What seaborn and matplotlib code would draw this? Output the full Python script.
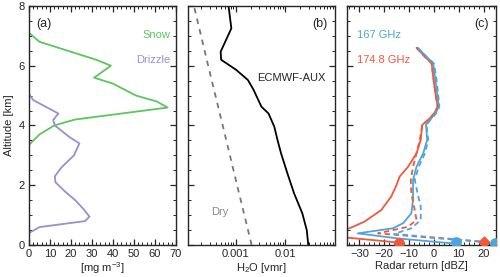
import numpy as np
import pandas as pd
import matplotlib
matplotlib.use("Agg")
import matplotlib.pyplot as plt
from matplotlib.ticker import MultipleLocator, FixedLocator, FixedFormatter, LogLocator, NullFormatter
import seaborn as sns

# Panel (a): hydrometeor content [mg m-3]
snow_alt = [0, 3.35, 3.7, 4.0, 4.2, 4.6, 4.8, 5.0, 5.4, 5.6, 6.0, 6.2, 6.8, 7.1]
snow_val = [0, 0, 5, 12, 22, 66, 61, 51, 40, 31, 39, 32, 5, 0]
drizzle_alt = [0, 0.4, 0.6, 0.8, 0.95, 1.2, 1.5, 1.8, 2.1, 2.3, 2.6, 3.0, 3.4, 3.6, 4.0, 4.18, 4.4, 4.85, 5.05]
drizzle_val = [0, 0, 5, 26.7, 28.8, 26, 22, 17, 12.6, 12.3, 15.5, 21.4, 24, 19.5, 12.3, 11.5, 14, 2, 0]

# Panel (b): water vapour [vmr]
ecmwf_alt = [0, 0.5, 1.06, 1.73, 2.4, 3.07, 3.5, 3.96, 4.4, 4.63, 5.19, 5.52, 5.86, 6.2, 6.47, 7.25, 8]
ecmwf_val = [2.9e-2, 2.7e-2, 2.2e-2, 1.5e-2, 1.1e-2, 8.2e-3, 7.0e-3, 6.0e-3, 4.6e-3, 3.3e-3,
             2.3e-3, 1.77e-3, 1.03e-3, 5.1e-4, 5.0e-4, 8.2e-4, 7.2e-4]
dry_alt = [0, 2, 4, 6, 8]
dry_val = [2.1e-3, 1.07e-3, 5.5e-4, 2.8e-4, 1.45e-4]

# Panel (c): radar return [dBZ]
r174_alt = [6.6, 6.3, 6.08, 5.64, 5.19, 4.63, 4.4, 4.19, 4.02, 3.52, 3.07, 2.62, 2.29, 2.0, 1.62,
            1.17, 0.78, 0.56, 0.4, 0.245, 0.08]
r174_dbz = [-7.0, -3.6, -0.9, -0.3, 0.4, 1.5, 0.1, -2.3, -4.7, -5.3, -7.0, -10.4, -13.8, -15.1, -17.2,
            -21.2, -28, -34, -40, -34.7, -14]
r167_alt = [6.6, 6.3, 6.08, 5.64, 5.19, 4.63, 4.4, 4.19, 4.02, 3.52, 3.07, 2.62, 2.18, 1.51, 1.06,
            0.73, 0.56, 0.39, 0.22, 0.05]
r167_dbz = [-6.5, -3.0, -0.3, 0.4, 1.1, 2.0, 0.6, -1.6, -3.2, -2.7, -4.3, -7.0, -8.4, -8.4, -9.1,
            -12.4, -16.5, -30.7, -14.5, 8]
r174d_alt = [6.6, 6.3, 6.08, 5.64, 5.19, 4.63, 4.4, 4.19, 4.02, 3.52, 3.07, 2.62, 2.18, 1.73, 1.28,
             0.84, 0.61, 0.39, 0.1]
r174d_dbz = [-7.0, -3.6, -0.9, -0.3, 0.4, 1.5, 0.1, -2.3, -4.7, -5.7, -7.0, -8.4, -9.3, -9.1, -8.0,
             -7.0, -10.4, -22.5, 20]
r167d_alt = [6.6, 6.3, 6.08, 5.64, 5.19, 4.63, 4.4, 4.19, 4.02, 3.52, 3.07, 2.62, 2.18, 1.73, 1.28,
             0.84, 0.56, 0.37, 0.08]
r167d_dbz = [-6.5, -3.0, 0.0, 0.9, 1.5, 2.2, 0.8, -1.4, -3.0, -2.3, -3.6, -6.1, -7.7, -6.6, -5.3,
             -5.3, -9.1, -16, 24.5]
surf_dbz = [-14, 9, 20.3, 24.5]
surf_alt = [0.08, 0.1, 0.1, 0.08]

GREEN = "#5cc65c"
PURPLE = "#9890d0"
BLUE = "#4ea5dc"
RED = "#f2573a"

sns.set_style("ticks")
plt.rcParams['font.family'] = ['Liberation Sans', 'DejaVu Sans']
plt.rcParams['mathtext.default'] = 'regular'
plt.rcParams['font.size'] = 8

fig = plt.figure(figsize=(5.0, 2.77), dpi=100)
axa = fig.add_axes([0.058, 0.1155, 0.294, 0.863])
axb = fig.add_axes([0.376, 0.1155, 0.294, 0.863])
axc = fig.add_axes([0.694, 0.1155, 0.298, 0.863])

lw = 1.3

def line(ax, x, y, color, ls="-"):
    df = pd.DataFrame({"x": x, "y": y})
    sns.lineplot(data=df, x="x", y="y", ax=ax, sort=False, estimator=None,
                 color=color, linestyle=ls, linewidth=lw)

# (a)
line(axa, snow_val, snow_alt, GREEN)
line(axa, drizzle_val, drizzle_alt, PURPLE)
axa.set_xlim(0, 70)
axa.xaxis.set_major_locator(MultipleLocator(10))
axa.xaxis.set_minor_locator(MultipleLocator(2))
axa.set_xlabel("[mg m$^{-3}$]", labelpad=1)
axa.set_ylabel("Altitude [km]", labelpad=3)
axa.text(0.05, 0.95, "(a)", transform=axa.transAxes, ha="left", va="top", fontsize=9)
axa.text(0.96, 0.88, "Snow", transform=axa.transAxes, ha="right", va="center", color=GREEN, fontsize=8)
axa.text(0.96, 0.775, "Drizzle", transform=axa.transAxes, ha="right", va="center", color=PURPLE, fontsize=8)

# (b)
line(axb, ecmwf_val, ecmwf_alt, "black")
line(axb, dry_val, dry_alt, "#777777", ls=(0, (3, 3)))
axb.set_xscale("log")
axb.set_xlim(1.1e-4, 0.1)
axb.xaxis.set_major_locator(FixedLocator([1e-3, 1e-2]))
axb.xaxis.set_major_formatter(FixedFormatter(["0.001", "0.01"]))
axb.xaxis.set_minor_locator(LogLocator(base=10, subs=np.arange(2, 10)))
axb.xaxis.set_minor_formatter(NullFormatter())
axb.set_xlabel("H$_2$O [vmr]", labelpad=1)
axb.text(0.95, 0.95, "(b)", transform=axb.transAxes, ha="right", va="top", fontsize=9)
axb.text(0.47, 0.70, "ECMWF-AUX", transform=axb.transAxes, ha="left", va="center", fontsize=8)
axb.text(0.16, 0.14, "Dry", transform=axb.transAxes, ha="left", va="center", color="#888888", fontsize=8)

# (c)
line(axc, r174_dbz, r174_alt, RED)
line(axc, r167_dbz, r167_alt, BLUE)
line(axc, r174d_dbz, r174d_alt, RED, ls=(0, (3, 2)))
line(axc, r167d_dbz, r167d_alt, BLUE, ls=(0, (3, 2)))
axc.scatter(surf_dbz[0:1], surf_alt[0:1], s=45, color=RED, zorder=5)
axc.scatter(surf_dbz[1:2], surf_alt[1:2], s=45, color=BLUE, zorder=5)
axc.scatter(surf_dbz[2:3], surf_alt[2:3], s=30, marker="D", color=RED, zorder=5)
axc.scatter(surf_dbz[3:4], surf_alt[3:4], s=45, color=BLUE, zorder=5)
axc.set_xlim(-35, 25)
axc.xaxis.set_major_locator(MultipleLocator(10))
axc.xaxis.set_minor_locator(MultipleLocator(2))
axc.set_xlabel("Radar return [dBZ]", labelpad=1)
axc.text(0.95, 0.95, "(c)", transform=axc.transAxes, ha="right", va="top", fontsize=9)
axc.text(0.07, 0.88, "167 GHz", transform=axc.transAxes, ha="left", va="center", color=BLUE, fontsize=8)
axc.text(0.07, 0.775, "174.8 GHz", transform=axc.transAxes, ha="left", va="center", color=RED, fontsize=8)

for ax in (axa, axb, axc):
    ax.set_ylim(0, 8)
    ax.yaxis.set_major_locator(MultipleLocator(2))
    ax.yaxis.set_minor_locator(MultipleLocator(0.5))
    ax.tick_params(which="both", direction="in", top=True, right=True, labelsize=8, pad=3)
    ax.tick_params(which="major", length=4, width=0.9)
    ax.tick_params(which="minor", length=2, width=0.7)
    for s in ax.spines.values():
        s.set_linewidth(1.0)
    if ax is not axa:
        ax.set_ylabel("")
        ax.set_yticklabels([])

fig.savefig("out.png", dpi=100)
